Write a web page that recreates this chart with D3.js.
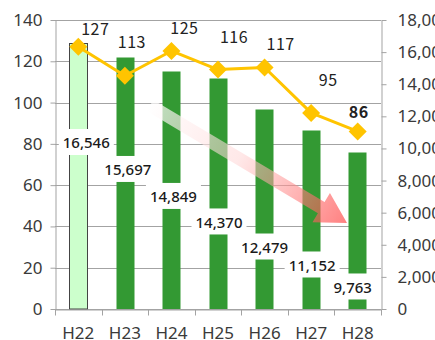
<!DOCTYPE html>
<html>
<head>
<meta charset="utf-8">
<script src="https://cdn.jsdelivr.net/npm/d3@7"></script>
<style>
  html, body { margin: 0; padding: 0; background: #fff; overflow: hidden; }
  svg { display: block; }
</style>
</head>
<body>
<svg id="chart" width="435" height="340"></svg>
<script>
// Fiscal years (Heisei era)
const years = ["H22", "H23", "H24", "H25", "H26", "H27", "H28"];
// Bar series, read on the right axis
const barValues = [16546, 15697, 14849, 14370, 12479, 11152, 9763];
// Line series, read on the left axis
const lineValues = [127, 113, 125, 116, 117, 95, 86];
// Axis ticks
const leftTicks = [0, 20, 40, 60, 80, 100, 120, 140];
const rightTicks = [0, 2000, 4000, 6000, 8000, 10000, 12000, 14000, 16000, 18000];

// Where each bar's value label sits (right-axis units) and its sideways nudge in px
const barLabelLevel = [10340, 8660, 6980, 5390, 3830, 2710, 1340];
const barLabelNudge = [8, 3, 2, 1, 0, 1, -5];
// Offset of each line label from its marker, px
const lineLabelOffset = [[17, -18], [7, -33], [13, -23], [16, -32], [16, -23], [17, -33], [1, -19]];
const emphasisIndex = 6;
// Trend arrow ends: [category position, left-axis value]
const arrowFrom = [1.54, 98.6];
const arrowTo = [5.77, 41.7];

const svg = d3.select("#chart");
const plot = { left: 55, right: 381, top: 20, bottom: 309 };

const x = d3.scaleBand().domain(years).range([plot.left, plot.right])
  .paddingInner(0.6).paddingOuter(0.3);
const xi = d3.scaleLinear().domain([-0.5, years.length - 0.5]).range([plot.left, plot.right]);
const yL = d3.scaleLinear().domain([0, 140]).range([plot.bottom, plot.top]);
const yR = d3.scaleLinear().domain([0, 18000]).range([plot.bottom, plot.top]);

const gridColor = "#a3a3a3";
const tickFont = "'Noto Sans', 'DejaVu Sans', sans-serif";

// Horizontal gridlines on the left-axis ticks
svg.append("g").selectAll("line").data(leftTicks).join("line")
  .attr("x1", plot.left).attr("x2", plot.right)
  .attr("y1", d => Math.round(yL(d)) + 0.5).attr("y2", d => Math.round(yL(d)) + 0.5)
  .attr("stroke", gridColor).attr("stroke-width", 1);

// Bars
svg.append("g").selectAll("rect").data(years).join("rect")
  .attr("x", d => Math.round(x(d)) + 0.5)
  .attr("width", Math.round(x.bandwidth()) - 1)
  .attr("y", (d, i) => Math.round(yR(barValues[i])) + 0.5)
  .attr("height", (d, i) => plot.bottom - Math.round(yR(barValues[i])) - 0.5)
  .attr("fill", (d, i) => i === 0 ? "#ccffcc" : "#339933")
  .attr("stroke", (d, i) => i === 0 ? "#444" : "none")
  .attr("stroke-width", 1);

// Bar value labels on white boxes
const fmt = d3.format(",");
const barLabels = svg.append("g");
years.forEach((d, i) => {
  const cx = x(d) + x.bandwidth() / 2 + barLabelNudge[i];
  const cy = yR(barLabelLevel[i]);
  const g = barLabels.append("g");
  const box = g.append("rect").attr("fill", "#fff");
  const t = g.append("text")
    .attr("x", cx).attr("y", cy).attr("dy", "0.36em")
    .attr("text-anchor", "middle")
    .attr("font-family", tickFont)
    .attr("font-size", 15).attr("font-weight", 500)
    .attr("fill", "#1a1a1a")
    .text(fmt(barValues[i]));
  const bb = t.node().getBBox();
  box.attr("x", bb.x - 4).attr("width", bb.width + 8)
    .attr("y", cy - 14).attr("height", 26);
});

// Trend arrow with a white-to-red gradient
const p0 = [xi(arrowFrom[0]), yL(arrowFrom[1])];
const p1 = [xi(arrowTo[0]), yL(arrowTo[1])];
const ang = Math.atan2(p1[1] - p0[1], p1[0] - p0[0]);
const len = Math.hypot(p1[0] - p0[0], p1[1] - p0[1]);
const headLen = 30, headHalf = 17, shaftHalf = 6.5;
const local = [
  [0, -shaftHalf], [len - headLen, -shaftHalf], [len - headLen, -headHalf],
  [len, 0], [len - headLen, headHalf], [len - headLen, shaftHalf], [0, shaftHalf]
];
const arrowPts = local.map(([u, v]) => [
  p0[0] + u * Math.cos(ang) - v * Math.sin(ang),
  p0[1] + u * Math.sin(ang) + v * Math.cos(ang)
]);
const defs = svg.append("defs");
const grad = defs.append("linearGradient").attr("id", "trendGrad")
  .attr("gradientUnits", "userSpaceOnUse")
  .attr("x1", p0[0]).attr("y1", p0[1]).attr("x2", p1[0]).attr("y2", p1[1]);
grad.append("stop").attr("offset", "0%").attr("stop-color", "#ffffff").attr("stop-opacity", 0.7);
grad.append("stop").attr("offset", "45%").attr("stop-color", "#ffd6d6").attr("stop-opacity", 0.55);
grad.append("stop").attr("offset", "100%").attr("stop-color", "#ff3c3c").attr("stop-opacity", 0.65);
svg.append("path")
  .attr("d", d3.line()(arrowPts) + "Z")
  .attr("fill", "url(#trendGrad)");

// Line series with diamond markers
const cxOf = i => x(years[i]) + x.bandwidth() / 2;
const lineGen = d3.line().x((d, i) => cxOf(i)).y(d => yL(d));
svg.append("path").datum(lineValues)
  .attr("d", lineGen)
  .attr("fill", "none").attr("stroke", "#ffc400")
  .attr("stroke-width", 3).attr("stroke-linejoin", "round");
const dr = 9;
svg.append("g").selectAll("path").data(lineValues).join("path")
  .attr("d", (d, i) => {
    const cx = cxOf(i), cy = yL(d);
    return `M${cx},${cy - dr}L${cx + dr},${cy}L${cx},${cy + dr}L${cx - dr},${cy}Z`;
  })
  .attr("fill", "#ffc400");

// Line value labels
svg.append("g").selectAll("text").data(lineValues).join("text")
  .attr("x", (d, i) => cxOf(i) + lineLabelOffset[i][0])
  .attr("y", (d, i) => yL(d) + lineLabelOffset[i][1])
  .attr("dy", "0.36em")
  .attr("text-anchor", "middle")
  .attr("font-family", "'Noto Sans CJK JP', 'Noto Sans', sans-serif")
  .attr("font-size", 16)
  .attr("font-weight", (d, i) => i === emphasisIndex ? 700 : 400)
  .attr("letter-spacing", 0.5)
  .attr("fill", "#222")
  .text(d => d);

// Axes
function styleAxis(g) {
  g.selectAll("path.domain").attr("stroke", gridColor);
  g.selectAll(".tick line").attr("stroke", gridColor);
  g.selectAll(".tick text").attr("fill", "#3a3a3a")
    .attr("font-family", tickFont).attr("font-size", 17);
}
svg.append("g")
  .attr("transform", `translate(${plot.left + 0.5},0)`)
  .call(d3.axisLeft(yL).tickValues(leftTicks).tickSize(5).tickSizeOuter(0).tickPadding(8))
  .call(styleAxis);
svg.append("g")
  .attr("transform", `translate(${plot.right + 0.5},0)`)
  .call(d3.axisRight(yR).tickValues(rightTicks).tickFormat(fmt)
    .tickSize(5).tickSizeOuter(0).tickPadding(11))
  .call(styleAxis);
const xAxis = svg.append("g")
  .attr("transform", `translate(0,${plot.bottom + 0.5})`)
  .call(d3.axisBottom(x).tickSize(0).tickPadding(17))
  .call(styleAxis);
// Category separators below the baseline
const gap = (x.step() - x.bandwidth()) / 2;
const bounds = years.map(d => x(d) - gap).concat([x(years[years.length - 1]) + x.bandwidth() + gap]);
xAxis.append("g").selectAll("line").data(bounds).join("line")
  .attr("x1", d => Math.round(d) + 0.5).attr("x2", d => Math.round(d) + 0.5)
  .attr("y1", 0).attr("y2", 6)
  .attr("stroke", gridColor);
</script>
</body>
</html>
